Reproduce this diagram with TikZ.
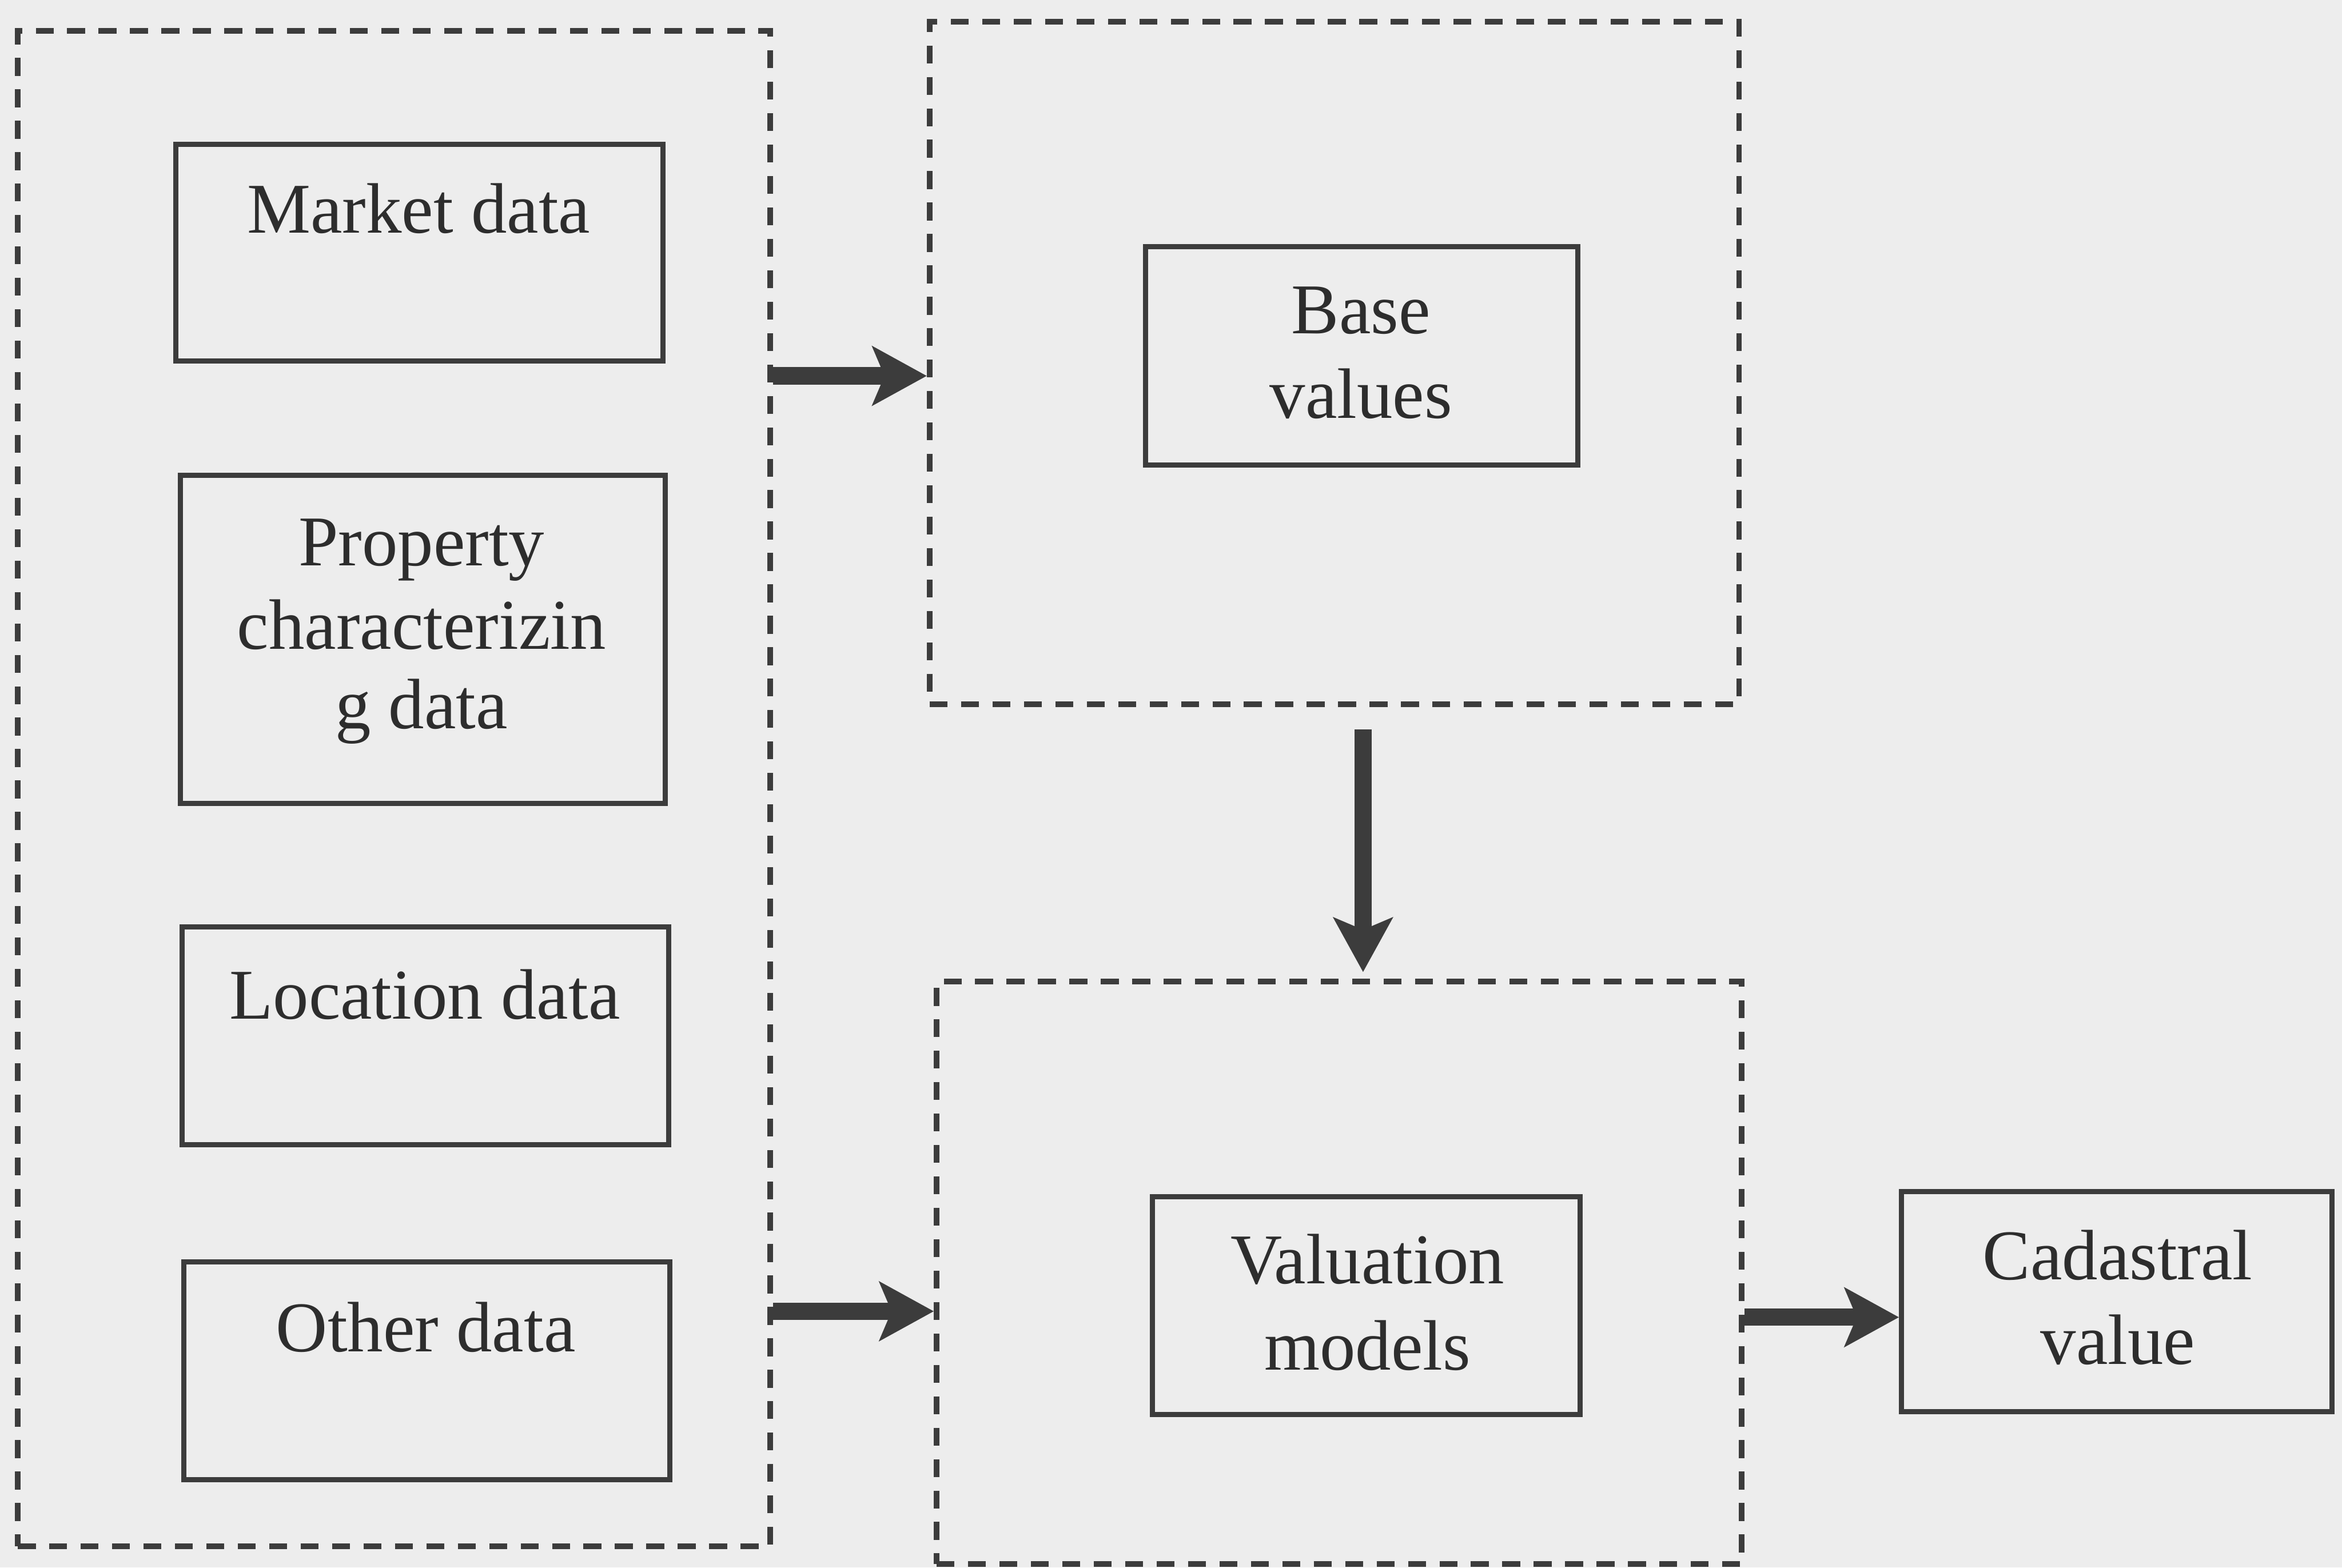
\documentclass[tikz,border=0pt]{standalone}
\usepackage{fontspec}
\setmainfont{Liberation Serif}
\usetikzlibrary{arrows.meta,calc}
\definecolor{bg}{RGB}{237,237,237}
\definecolor{ink}{RGB}{60,60,60}
\definecolor{txt}{RGB}{45,45,45}
\tikzset{
  solidbox/.style={draw=ink, line width=0.095cm, rectangle, inner sep=0pt},
  groupbox/.style={draw=ink, line width=0.105cm, dash pattern=on 0.33cm off 0.25cm, rectangle, inner sep=0pt},
  lbl/.style={anchor=base, text=txt, inner sep=0pt, font=\fontsize{37.5}{44}\selectfont},
  bigarrow/.style={draw=ink, line width=0.32cm, -{Stealth[length=1.0cm, width=1.08cm, inset=0.22cm, fill=ink]}},
}
\begin{document}
\begin{tikzpicture}
\useasboundingbox (0,0) rectangle (43.23,-28.94);
\fill[bg] (0,0) rectangle (43.23,-28.94);

% group (dashed) boxes
\node[groupbox, minimum width=13.89cm, minimum height=27.98cm] (leftgrp) at (7.275,-14.56) {};
\node[groupbox, minimum width=14.94cm, minimum height=12.60cm] (basegrp) at (24.63,-6.70) {};
\node[groupbox, minimum width=14.86cm, minimum height=10.76cm] (valgrp) at (24.72,-23.50) {};

% solid boxes
\node[solidbox, minimum width=8.99cm, minimum height=4.00cm] (market) at (7.745,-4.66) {};
\node[solidbox, minimum width=8.95cm, minimum height=6.05cm] (property) at (7.805,-11.805) {};
\node[solidbox, minimum width=8.98cm, minimum height=4.02cm] (location) at (7.85,-19.12) {};
\node[solidbox, minimum width=8.97cm, minimum height=4.02cm] (other) at (7.875,-25.31) {};
\node[solidbox, minimum width=7.97cm, minimum height=4.04cm] (base) at (25.135,-6.57) {};
\node[solidbox, minimum width=7.90cm, minimum height=4.03cm] (valuation) at (25.22,-24.105) {};
\node[solidbox, minimum width=7.95cm, minimum height=4.06cm] (cadastral) at (39.075,-24.03) {};

% texts
\node[lbl] (tmarket) at (7.73,-4.30) {Market data};
\node[lbl] (tprop1) at (7.78,-10.44) {Property};
\node[lbl] (tprop2) at (7.78,-11.98) {characterizin};
\node[lbl] (tprop3) at (7.78,-13.45) {g data};
\node[lbl] (tloc) at (7.84,-18.81) {Location data};
\node[lbl] (tother) at (7.86,-24.95) {Other data};
\node[lbl] (tbase1) at (25.12,-6.16) {Base};
\node[lbl] (tbase2) at (25.12,-7.72) {values};
\node[lbl] (tval1) at (25.24,-23.70) {Valuation};
\node[lbl] (tval2) at (25.24,-25.29) {models};
\node[lbl] (tcad1) at (39.09,-23.63) {Cadastral};
\node[lbl] (tcad2) at (39.09,-25.19) {value};

% connectors
\coordinate (a1) at (0,-6.94);
\coordinate (a2) at (0,-24.21);
\coordinate (a3) at (25.16,0);
\coordinate (a4) at (0,-24.32);
\draw[bigarrow] (leftgrp.east |- a1) -- (basegrp.west |- a1);
\draw[bigarrow] (leftgrp.east |- a2) -- (valgrp.west |- a2);
\draw[bigarrow, shorten <=0.41cm, shorten >=0.12cm] (basegrp.south -| a3) -- (valgrp.north -| a3);
\draw[bigarrow] (valgrp.east |- a4) -- (cadastral.west |- a4);
\end{tikzpicture}
\end{document}
